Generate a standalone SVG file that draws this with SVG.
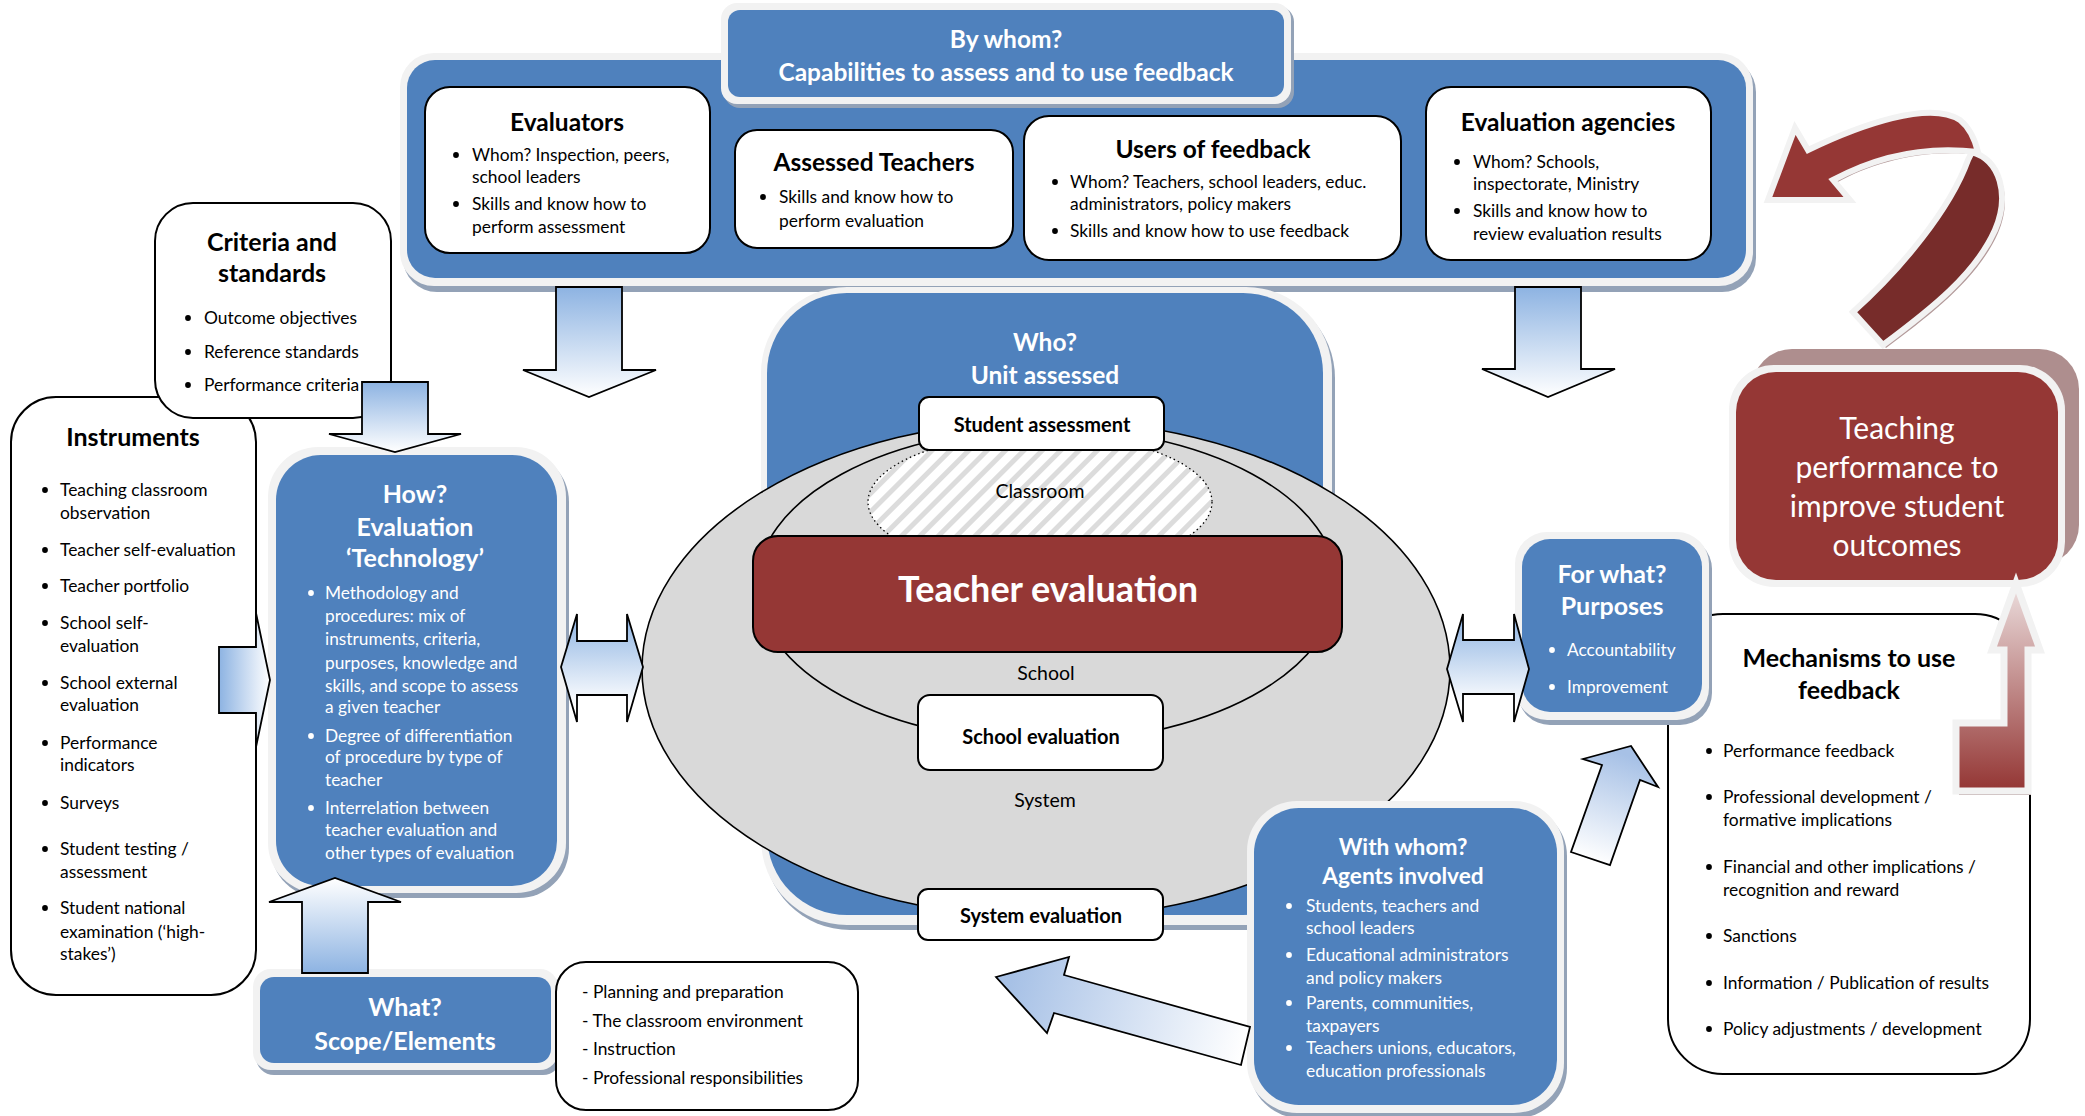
<svg xmlns="http://www.w3.org/2000/svg" width="2085" height="1116" viewBox="0 0 2085 1116">
<defs>
<style>
.b{fill:#4f81bd}.bd{fill:#f2f2f2}.sh{fill:#93a2b7}
.w{fill:#fff;stroke:#000;stroke-width:2}
text{font-family:Lato,"Open Sans",sans-serif}
.tt{font-weight:bold;fill:#000;text-anchor:middle}
.tx{fill:#000}
.wt{font-weight:bold;fill:#fff;text-anchor:middle}
.wx{fill:#fff}
.dot{fill:#000}.wdot{fill:#fff}
.ar{stroke:#000;stroke-width:1.8}
.lbl{fill:#000;text-anchor:middle;font-size:19.5px}
</style>
<linearGradient id="gDown" x1="0" y1="0" x2="0" y2="1"><stop offset="0" stop-color="#8db3e2"/><stop offset="1" stop-color="#fff"/></linearGradient>
<linearGradient id="gUp" x1="0" y1="1" x2="0" y2="0"><stop offset="0" stop-color="#8db3e2"/><stop offset="1" stop-color="#fff"/></linearGradient>
<linearGradient id="gRight" x1="0" y1="0" x2="1" y2="0"><stop offset="0" stop-color="#8db3e2"/><stop offset="1" stop-color="#fff"/></linearGradient>
<linearGradient id="gDbl" x1="0" y1="0" x2="0" y2="1"><stop offset="0" stop-color="#8db3e2"/><stop offset="0.85" stop-color="#fff"/></linearGradient>
<linearGradient id="gDiag1" gradientUnits="userSpaceOnUse" x1="1010" y1="985" x2="1245" y2="1048"><stop offset="0" stop-color="#a7c1e6"/><stop offset="1" stop-color="#fff"/></linearGradient>
<linearGradient id="gDiag2" gradientUnits="userSpaceOnUse" x1="1625" y1="755" x2="1590" y2="860"><stop offset="0" stop-color="#a7c1e6"/><stop offset="1" stop-color="#fff"/></linearGradient>
<linearGradient id="gRed" gradientUnits="userSpaceOnUse" x1="0" y1="790" x2="0" y2="580"><stop offset="0" stop-color="#943634"/><stop offset="1" stop-color="#eee2e2"/></linearGradient>
<pattern id="hatch" width="13" height="13" patternUnits="userSpaceOnUse" patternTransform="rotate(45)"><rect width="13" height="13" fill="#fff"/><rect width="5" height="13" fill="#dcdcdc"/></pattern>
</defs>

<g id="by-whom-container">
<rect class="sh" x="403" y="58" width="1353" height="234" rx="34"/>
<rect class="bd" x="400" y="53" width="1353" height="233" rx="34"/>
<rect class="b" x="407" y="60" width="1339" height="218" rx="28"/>
</g>
<g id="by-whom">
<rect class="sh" x="724" y="6" width="570" height="102" rx="16"/>
<rect class="bd" x="721" y="3" width="570" height="101" rx="16"/>
<rect class="b" x="728" y="10" width="556" height="87" rx="12"/>
<text class="wt" x="1006" y="48" font-size="24.5">By whom?</text>
<text class="wt" x="1006" y="81" font-size="24.5">Capabilities to assess and to use feedback</text>
</g>
<g id="evaluators">
<rect class="w" x="425" y="87" width="285" height="166" rx="25"/>
<text class="tt" x="567" y="131" font-size="24.5">Evaluators</text>
<circle class="dot" cx="456" cy="155" r="2.9"/><circle class="dot" cx="456" cy="204" r="2.9"/>
<text class="tx" font-size="17.4"><tspan x="472" y="161">Whom? Inspection, peers,</tspan><tspan x="472" y="183">school leaders</tspan><tspan x="472" y="210">Skills and know how to</tspan><tspan x="472" y="233">perform assessment</tspan></text>
</g>
<g id="assessed-teachers">
<rect class="w" x="735" y="130" width="278" height="118" rx="22"/>
<text class="tt" x="874" y="171" font-size="24.5">Assessed Teachers</text>
<circle class="dot" cx="763" cy="197" r="2.9"/>
<text class="tx" font-size="17.4"><tspan x="779" y="203">Skills and know how to</tspan><tspan x="779" y="227">perform evaluation</tspan></text>
</g>
<g id="users-of-feedback">
<rect class="w" x="1024" y="116" width="377" height="144" rx="25"/>
<text class="tt" x="1213" y="158" font-size="24.5">Users of feedback</text>
<circle class="dot" cx="1055" cy="182" r="2.9"/><circle class="dot" cx="1055" cy="231" r="2.9"/>
<text class="tx" font-size="17.4"><tspan x="1070" y="188">Whom? Teachers, school leaders, educ.</tspan><tspan x="1070" y="210">administrators, policy makers</tspan><tspan x="1070" y="237">Skills and know how to use feedback</tspan></text>
</g>
<g id="evaluation-agencies">
<rect class="w" x="1426" y="87" width="285" height="173" rx="25"/>
<text class="tt" x="1568" y="131" font-size="24.5">Evaluation agencies</text>
<circle class="dot" cx="1457" cy="162" r="2.9"/><circle class="dot" cx="1457" cy="211" r="2.9"/>
<text class="tx" font-size="17.4"><tspan x="1473" y="168">Whom? Schools,</tspan><tspan x="1473" y="190">inspectorate, Ministry</tspan><tspan x="1473" y="217">Skills and know how to</tspan><tspan x="1473" y="240">review evaluation results</tspan></text>
</g>

<g id="who-unit-assessed">
<rect class="sh" x="764" y="292" width="571" height="638" rx="86"/>
<rect class="bd" x="761" y="287" width="571" height="638" rx="86"/>
<rect class="b" x="767" y="293" width="556" height="622" rx="80"/>
<text class="wt" x="1045" y="351" font-size="24.5">Who?</text>
<text class="wt" x="1045" y="384" font-size="24.5">Unit assessed</text>
</g>
<g id="system-ellipse">
<ellipse cx="1046" cy="669" rx="404" ry="249" fill="#d9d9d9" stroke="#000" stroke-width="1.6"/>
<text class="lbl" x="1045" y="807">System</text>
</g>
<g id="school-ellipse">
<ellipse cx="1047" cy="585" rx="290" ry="157" fill="#d9d9d9" stroke="#000" stroke-width="1.6"/>
<text class="lbl" x="1046" y="680">School</text>
</g>
<g id="classroom">
<ellipse cx="1040" cy="502" rx="172" ry="68" fill="url(#hatch)" stroke="#000" stroke-width="1.3" stroke-dasharray="1.5 3"/>
<text class="lbl" x="1040" y="498">Classroom</text>
</g>
<g id="teacher-evaluation">
<rect x="753" y="536" width="589" height="116" rx="25" fill="#953735" stroke="#000" stroke-width="2"/>
<text class="wt" x="1048" y="602" font-size="36">Teacher evaluation</text>
</g>
<g id="student-assessment">
<rect class="w" x="919" y="397" width="245" height="53" rx="10"/>
<text class="tt" x="1042" y="432" font-size="20">Student assessment</text>
</g>
<g id="school-evaluation">
<rect class="w" x="918" y="695" width="245" height="75" rx="12"/>
<text class="tt" x="1041" y="744" font-size="20">School evaluation</text>
</g>
<g id="system-evaluation">
<rect class="w" x="918" y="889" width="245" height="51" rx="10"/>
<text class="tt" x="1041" y="923" font-size="20">System evaluation</text>
</g>

<g id="instruments">
<rect class="w" x="11" y="397" width="245" height="598" rx="45"/>
<text class="tt" x="133" y="446" font-size="25">Instruments</text>
<g class="dot"><circle cx="45" cy="490" r="2.9"/><circle cx="45" cy="550" r="2.9"/><circle cx="45" cy="586" r="2.9"/><circle cx="45" cy="623" r="2.9"/><circle cx="45" cy="683" r="2.9"/><circle cx="45" cy="743" r="2.9"/><circle cx="45" cy="803" r="2.9"/><circle cx="45" cy="849" r="2.9"/><circle cx="45" cy="908" r="2.9"/></g>
<text class="tx" font-size="17.4"><tspan x="60" y="496">Teaching classroom</tspan><tspan x="60" y="519">observation</tspan><tspan x="60" y="556">Teacher self-evaluation</tspan><tspan x="60" y="592">Teacher portfolio</tspan><tspan x="60" y="629">School self-</tspan><tspan x="60" y="652">evaluation</tspan><tspan x="60" y="689">School external</tspan><tspan x="60" y="711">evaluation</tspan><tspan x="60" y="749">Performance</tspan><tspan x="60" y="771">indicators</tspan><tspan x="60" y="809">Surveys</tspan><tspan x="60" y="855">Student testing /</tspan><tspan x="60" y="878">assessment</tspan><tspan x="60" y="914">Student national</tspan><tspan x="60" y="938">examination (‘high-</tspan><tspan x="60" y="960">stakes’)</tspan></text>
</g>
<g id="criteria-and-standards">
<rect class="w" x="155" y="203" width="236" height="215" rx="38"/>
<text class="tt" font-size="25"><tspan x="272" y="251">Criteria and</tspan><tspan x="272" y="282">standards</tspan></text>
<g class="dot"><circle cx="188" cy="318" r="2.9"/><circle cx="188" cy="352" r="2.9"/><circle cx="188" cy="385" r="2.9"/></g>
<text class="tx" font-size="17.4"><tspan x="204" y="324">Outcome objectives</tspan><tspan x="204" y="358">Reference standards</tspan><tspan x="204" y="391">Performance criteria</tspan></text>
</g>
<g id="how-evaluation-technology">
<rect class="sh" x="271" y="452" width="298" height="446" rx="50"/>
<rect class="bd" x="268" y="447" width="298" height="446" rx="50"/>
<rect class="b" x="276" y="455" width="281" height="431" rx="45"/>
<text class="wt" font-size="25"><tspan x="415" y="503">How?</tspan><tspan x="415" y="536">Evaluation</tspan><tspan x="415" y="567">‘Technology’</tspan></text>
<g class="wdot"><circle cx="311" cy="593" r="2.9"/><circle cx="311" cy="736" r="2.9"/><circle cx="311" cy="808" r="2.9"/></g>
<text class="wx" font-size="17.3"><tspan x="325" y="599">Methodology and</tspan><tspan x="325" y="622">procedures: mix of</tspan><tspan x="325" y="645">instruments, criteria,</tspan><tspan x="325" y="669">purposes, knowledge and</tspan><tspan x="325" y="692">skills, and scope to assess</tspan><tspan x="325" y="713">a given teacher</tspan><tspan x="325" y="742">Degree of differentiation</tspan><tspan x="325" y="763">of procedure by type of</tspan><tspan x="325" y="786">teacher</tspan><tspan x="325" y="814">Interrelation between</tspan><tspan x="325" y="836">teacher evaluation and</tspan><tspan x="325" y="859">other types of evaluation</tspan></text>
</g>
<g id="what-scope-elements">
<rect class="sh" x="256" y="974" width="305" height="101" rx="18"/>
<rect class="bd" x="253" y="969" width="305" height="101" rx="18"/>
<rect class="b" x="260" y="977" width="291" height="86" rx="14"/>
<text class="wt" font-size="25"><tspan x="405" y="1016">What?</tspan><tspan x="405" y="1050">Scope/Elements</tspan></text>
</g>
<g id="scope-list">
<rect class="w" x="556" y="962" width="302" height="148" rx="30"/>
<text class="tx" font-size="17.4"><tspan x="582" y="998">- Planning and preparation</tspan><tspan x="582" y="1027">- The classroom environment</tspan><tspan x="582" y="1055">- Instruction</tspan><tspan x="582" y="1084">- Professional responsibilities</tspan></text>
</g>

<g id="mechanisms">
<rect class="w" x="1668" y="614" width="362" height="460" rx="55"/>
<text class="tt" font-size="25"><tspan x="1849" y="667">Mechanisms to use</tspan><tspan x="1849" y="699">feedback</tspan></text>
<g class="dot"><circle cx="1709" cy="751" r="2.9"/><circle cx="1709" cy="797" r="2.9"/><circle cx="1709" cy="867" r="2.9"/><circle cx="1709" cy="936" r="2.9"/><circle cx="1709" cy="983" r="2.9"/><circle cx="1709" cy="1029" r="2.9"/></g>
<text class="tx" font-size="17.4"><tspan x="1723" y="757">Performance feedback</tspan><tspan x="1723" y="803">Professional development /</tspan><tspan x="1723" y="826">formative implications</tspan><tspan x="1723" y="873">Financial and other implications /</tspan><tspan x="1723" y="896">recognition and reward</tspan><tspan x="1723" y="942">Sanctions</tspan><tspan x="1723" y="989">Information / Publication of results</tspan><tspan x="1723" y="1035">Policy adjustments / development</tspan></text>
</g>
<g id="for-what-purposes">
<rect class="sh" x="1518" y="537" width="194" height="188" rx="32"/>
<rect class="bd" x="1515" y="532" width="194" height="188" rx="32"/>
<rect class="b" x="1522" y="539" width="180" height="173" rx="28"/>
<text class="wt" font-size="25"><tspan x="1612" y="583">For what?</tspan><tspan x="1612" y="615">Purposes</tspan></text>
<g class="wdot"><circle cx="1552" cy="650" r="2.9"/><circle cx="1552" cy="687" r="2.9"/></g>
<text class="wx" font-size="17.3"><tspan x="1567" y="656">Accountability</tspan><tspan x="1567" y="693">Improvement</tspan></text>
</g>
<g id="with-whom-agents">
<rect class="sh" x="1250" y="806" width="317" height="312" rx="50"/>
<rect class="bd" x="1247" y="801" width="317" height="312" rx="50"/>
<rect class="b" x="1254" y="808" width="303" height="297" rx="45"/>
<text class="wt" font-size="22.7"><tspan x="1403" y="855">With whom?</tspan><tspan x="1403" y="884">Agents involved</tspan></text>
<g class="wdot"><circle cx="1289" cy="906" r="2.9"/><circle cx="1289" cy="955" r="2.9"/><circle cx="1289" cy="1003" r="2.9"/><circle cx="1289" cy="1048" r="2.9"/></g>
<text class="wx" font-size="17.4"><tspan x="1306" y="912">Students, teachers and</tspan><tspan x="1306" y="934">school leaders</tspan><tspan x="1306" y="961">Educational administrators</tspan><tspan x="1306" y="984">and policy makers</tspan><tspan x="1306" y="1009">Parents, communities,</tspan><tspan x="1306" y="1032">taxpayers</tspan><tspan x="1306" y="1054">Teachers unions, educators,</tspan><tspan x="1306" y="1077">education professionals</tspan></text>
</g>
<g id="teaching-performance">
<rect x="1752" y="349" width="327" height="216" rx="40" fill="#ae8e8e"/>
<rect class="bd" x="1729" y="365" width="336" height="222" rx="45"/>
<rect x="1736" y="372" width="322" height="208" rx="40" fill="#953735"/>
<text fill="#fff" text-anchor="middle" font-size="30"><tspan x="1897" y="439">Teaching</tspan><tspan x="1897" y="478">performance to</tspan><tspan x="1897" y="517">improve student</tspan><tspan x="1897" y="556">outcomes</tspan></text>
</g>

<g id="connectors">
<path class="ar" fill="url(#gDown)" d="M556,287 H622 V370 H656 L589,397 L523,370 H556 Z"/>
<path class="ar" fill="url(#gDown)" d="M1515,287 H1581 V369 H1615 L1548,397 L1482,369 H1515 Z"/>
<path class="ar" fill="url(#gDown)" d="M362,382 H428 V434 H461 L395,452 L329,434 H362 Z"/>
<path class="ar" fill="url(#gRight)" d="M219,647 H256 V613 L270,680 L256,747 V713 H219 Z"/>
<path class="ar" fill="url(#gUp)" d="M302,973 V902 H269 L335,878 L401,902 H368 V973 Z"/>
<path class="ar" fill="url(#gDbl)" d="M561,667 L577,614 V641 H627 V614 L643,667 L627,722 V695 H577 V722 Z"/>
<path class="ar" fill="url(#gDbl)" d="M1447,669 L1463,614 V640 H1514 V614 L1529,669 L1514,722 V694 H1463 V722 Z"/>
<path class="ar" fill="url(#gDiag1)" d="M996,977 L1069,957 L1064,975 L1250,1027 L1241,1065 L1054,1013 L1047,1033 Z"/>
<path class="ar" fill="url(#gDiag2)" d="M1631,746 L1658,787 L1640,780 L1610,865 L1571,852 L1602,765 L1583,759 Z"/>
<g id="bent-up-arrow">
<path d="M1959,727 H2007 V653 H1995 L2019,586 L2043,653 H2031 V795 H1959 Z" fill="#b39a9a"/>
<path d="M1956,723 H2004 V650 H1992 L2016,583 L2040,650 H2028 V791 H1956 Z" fill="url(#gRed)" stroke="#f2f2f2" stroke-width="7" stroke-linejoin="miter"/>
</g>
<g id="curved-arrow">
<path d="M1771,203 L1798,131 L1811,153 C1862,128 1932,103 1962,123 C1972,131 1977,143 1980,155 C1922,148 1872,163 1836,183 L1853,203 Z" fill="#b39a9a"/>
<path d="M1975,155 C2003,163 2013,198 1998,233 C1978,278 1933,313 1886,348 L1856,315 C1903,273 1953,213 1971,163 Z" fill="#b39a9a"/>
<path d="M1972,152 C2000,160 2010,195 1995,230 C1975,275 1930,310 1883,345 L1853,312 C1900,270 1950,210 1968,160 Z" fill="#772c2a" stroke="#f2f2f2" stroke-width="6"/>
<path d="M1768,200 L1795,128 L1808,150 C1860,125 1930,100 1960,120 C1970,128 1975,140 1978,152 C1920,145 1870,160 1833,180 L1850,200 Z" fill="#953735" stroke="#f2f2f2" stroke-width="6"/>
</g>
</g>
</svg>
